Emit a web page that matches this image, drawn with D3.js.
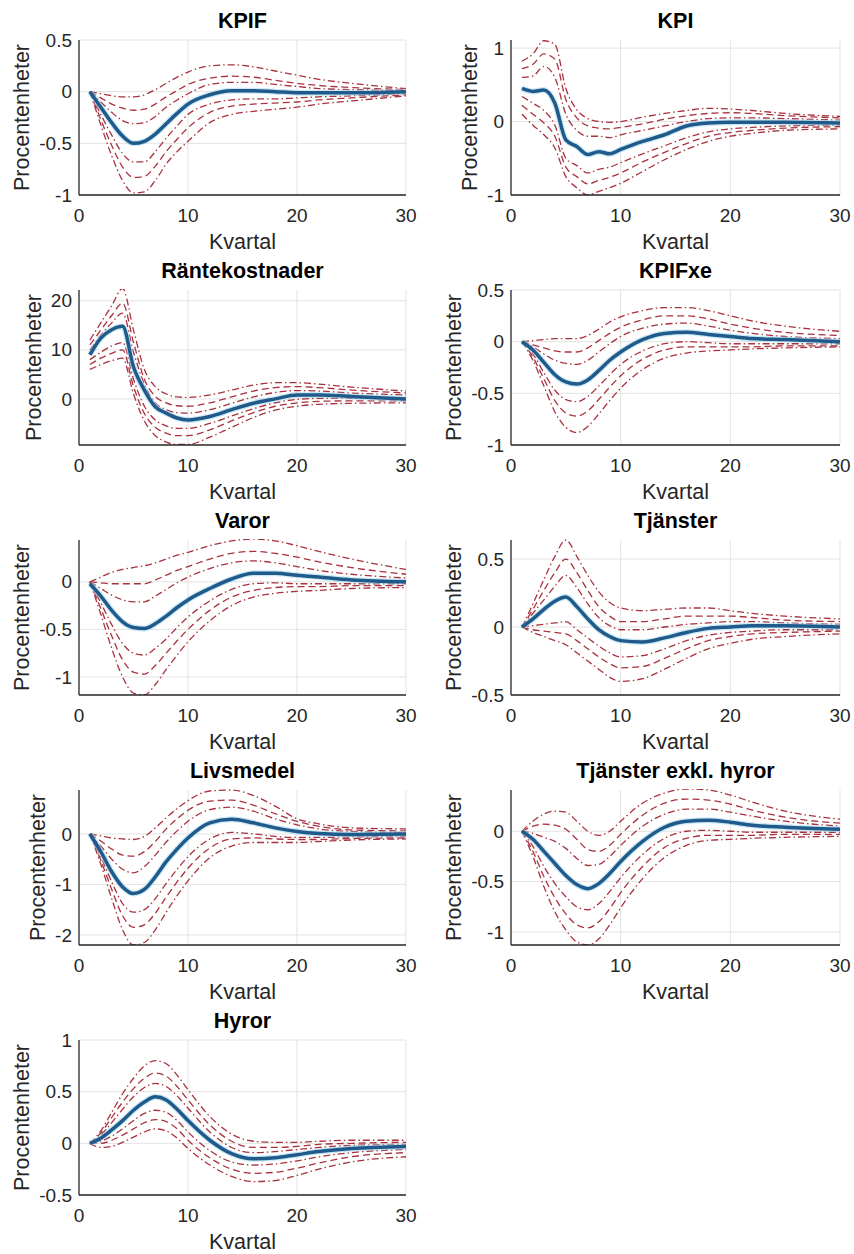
<!DOCTYPE html>
<html lang="sv">
<head>
<meta charset="UTF-8">
<title>Impulssvar</title>
<script src="https://cdnjs.cloudflare.com/ajax/libs/d3/7.8.5/d3.min.js"></script>
<style>
    body { margin: 0; background: #fff; }
    svg text { font-family: "Liberation Sans", Arial, Helvetica, sans-serif; fill: #262626; }
</style>
</head>
<body>
<div id="chart"></div>
<script>
    // kvartal där värdena är avlästa
    const quarters = [1, 2, 3, 4, 5, 6, 7, 8, 9, 10, 12, 14, 16, 18, 20, 22, 25, 30];

    const titles = ['KPIF', 'KPI', 'Räntekostnader', 'KPIFxe', 'Varor', 'Tjänster',
        'Livsmedel', 'Tjänster exkl. hyror', 'Hyror'];

    const yLimits = [[-1, 0.5], [-1, 1.11], [-9.4, 22.2], [-1, 0.5], [-1.19, 0.44],
        [-0.5, 0.64], [-2.2, 0.87], [-1.13, 0.41], [-0.5, 1]];

    const yTicks = [[-1, -0.5, 0, 0.5], [-1, 0, 1], [0, 10, 20], [-1, -0.5, 0, 0.5], [-1, -0.5, 0],
        [-0.5, 0, 0.5], [-2, -1, 0], [-1, -0.5, 0], [-0.5, 0, 0.5, 1]];

    const xTicks = [0, 10, 20, 30];

    // median (blå) och band (röda): övre yttre, övre mitt, övre inre, undre inre, undre mitt, undre yttre
    const kpifMedian = [0, -0.15, -0.3, -0.43, -0.5, -0.48, -0.41, -0.31, -0.21, -0.12, -0.03, 0.01, 0.01, 0, -0.01, -0.01, -0.01, 0];
    const kpifBands = [
        [0, -0.02, -0.04, -0.05, -0.05, -0.03, 0.02, 0.08, 0.14, 0.19, 0.25, 0.26, 0.24, 0.2, 0.16, 0.12, 0.08, 0.03],
        [0, -0.06, -0.12, -0.16, -0.18, -0.17, -0.12, -0.05, 0.01, 0.07, 0.13, 0.15, 0.14, 0.11, 0.08, 0.06, 0.04, 0.02],
        [0, -0.1, -0.2, -0.28, -0.31, -0.3, -0.24, -0.15, -0.08, -0.02, 0.07, 0.09, 0.09, 0.07, 0.05, 0.03, 0.02, 0.01],
        [0, -0.22, -0.42, -0.6, -0.68, -0.68, -0.58, -0.45, -0.33, -0.22, -0.12, -0.08, -0.07, -0.07, -0.06, -0.05, -0.04, -0.02],
        [0, -0.27, -0.52, -0.73, -0.83, -0.82, -0.72, -0.58, -0.46, -0.35, -0.2, -0.14, -0.12, -0.11, -0.1, -0.08, -0.06, -0.03],
        [0, -0.32, -0.62, -0.86, -0.98, -0.97, -0.86, -0.7, -0.58, -0.48, -0.3, -0.22, -0.19, -0.17, -0.15, -0.12, -0.09, -0.04]
    ];

    const kpiMedian = [0.45, 0.41, 0.43, 0.25, -0.25, -0.34, -0.45, -0.41, -0.44, -0.38, -0.27, -0.18, -0.06, -0.02, -0.01, -0.01, -0.01, -0.02];
    const kpiBands = [
        [0.82, 0.92, 1.1, 1.05, 0.45, 0.16, 0.04, 0, -0.01, 0, 0.06, 0.11, 0.15, 0.18, 0.17, 0.15, 0.11, 0.07],
        [0.72, 0.78, 0.92, 0.85, 0.3, 0.05, -0.06, -0.09, -0.1, -0.08, -0.03, 0.03, 0.08, 0.11, 0.12, 0.11, 0.08, 0.05],
        [0.6, 0.62, 0.75, 0.6, 0.1, -0.12, -0.2, -0.2, -0.22, -0.18, -0.12, -0.06, 0, 0.04, 0.05, 0.05, 0.04, 0.02],
        [0.34, 0.25, 0.15, -0.05, -0.5, -0.6, -0.7, -0.65, -0.62, -0.56, -0.44, -0.33, -0.22, -0.14, -0.1, -0.08, -0.06, -0.05],
        [0.22, 0.1, -0.02, -0.2, -0.62, -0.75, -0.85, -0.8, -0.76, -0.7, -0.55, -0.42, -0.3, -0.2, -0.15, -0.12, -0.09, -0.07],
        [0.1, -0.05, -0.18, -0.36, -0.75, -0.9, -1.0, -0.95, -0.9, -0.84, -0.68, -0.52, -0.38, -0.27, -0.2, -0.16, -0.12, -0.1]
    ];

    const ranteMedian = [9, 12.4, 14.1, 14.8, 6.5, 1.8, -1.6, -2.9, -3.9, -4.3, -3.6, -2.2, -0.9, 0, 0.8, 0.8, 0.5, 0];
    const ranteBands = [
        [12, 15.5, 19, 22.5, 14, 6, 2.5, 1, 0.4, 0.3, 0.8, 1.8, 2.8, 3.3, 3.3, 3, 2.4, 1.6],
        [11, 14, 17, 19.5, 11.5, 4, 0.5, -0.8, -1.4, -1.5, -0.8, 0.4, 1.6, 2.3, 2.5, 2.3, 1.8, 1.2],
        [10, 13, 15.5, 17.5, 9.5, 3, -0.8, -2.2, -2.8, -2.9, -2.2, -0.9, 0.4, 1.3, 1.7, 1.6, 1.2, 0.8],
        [8, 9.5, 10.8, 11.5, 4, -1.5, -4.3, -5.5, -6, -6, -5, -3.5, -2, -0.8, -0.1, 0.1, 0.1, 0],
        [7, 8.3, 9.3, 10, 2.5, -3, -5.8, -7, -7.5, -7.5, -6.3, -4.5, -2.8, -1.5, -0.8, -0.5, -0.4, -0.4],
        [6, 7, 7.8, 8.3, 1, -4.5, -7.5, -8.8, -9.3, -9.3, -7.8, -5.8, -3.8, -2.3, -1.5, -1.1, -0.9, -0.8]
    ];

    const kpifxeMedian = [0, -0.08, -0.2, -0.32, -0.39, -0.41, -0.37, -0.28, -0.18, -0.1, 0.02, 0.08, 0.09, 0.07, 0.05, 0.03, 0.02, 0];
    const kpifxeBands = [
        [0, 0.01, 0.02, 0.03, 0.03, 0.03, 0.06, 0.12, 0.19, 0.24, 0.3, 0.33, 0.33, 0.3, 0.25, 0.2, 0.15, 0.1],
        [0, -0.03, -0.06, -0.09, -0.1, -0.1, -0.06, 0.01, 0.08, 0.14, 0.21, 0.25, 0.25, 0.22, 0.17, 0.13, 0.09, 0.06],
        [0, -0.05, -0.12, -0.18, -0.21, -0.22, -0.18, -0.1, -0.02, 0.05, 0.13, 0.17, 0.18, 0.15, 0.11, 0.08, 0.05, 0.03],
        [0, -0.12, -0.3, -0.47, -0.56, -0.58, -0.53, -0.43, -0.32, -0.22, -0.09, -0.02, 0, -0.01, -0.02, -0.02, -0.02, -0.02],
        [0, -0.15, -0.36, -0.57, -0.69, -0.72, -0.67, -0.56, -0.44, -0.33, -0.17, -0.08, -0.05, -0.05, -0.05, -0.05, -0.04, -0.04],
        [0, -0.18, -0.43, -0.68, -0.83, -0.88, -0.82, -0.7, -0.57, -0.45, -0.27, -0.16, -0.11, -0.09, -0.08, -0.07, -0.06, -0.05]
    ];

    const varorMedian = [-0.02, -0.15, -0.3, -0.42, -0.48, -0.49, -0.44, -0.36, -0.27, -0.19, -0.07, 0.03, 0.09, 0.09, 0.07, 0.05, 0.02, 0];
    const varorBands = [
        [0, 0.05, 0.1, 0.13, 0.15, 0.17, 0.2, 0.24, 0.28, 0.31, 0.38, 0.43, 0.45, 0.43, 0.38, 0.32, 0.24, 0.13],
        [0, -0.01, -0.02, -0.02, -0.02, -0.02, 0.02, 0.07, 0.12, 0.16, 0.24, 0.3, 0.32, 0.3, 0.26, 0.21, 0.15, 0.08],
        [0, -0.07, -0.14, -0.19, -0.21, -0.21, -0.15, -0.08, -0.01, 0.05, 0.14, 0.2, 0.22, 0.2, 0.16, 0.12, 0.08, 0.04],
        [0, -0.22, -0.45, -0.65, -0.75, -0.77, -0.7, -0.6, -0.48, -0.37, -0.2, -0.08, -0.02, -0.01, -0.02, -0.02, -0.02, -0.02],
        [0, -0.28, -0.57, -0.82, -0.95, -0.97, -0.88, -0.75, -0.62, -0.5, -0.3, -0.16, -0.09, -0.06, -0.05, -0.05, -0.04, -0.04],
        [0, -0.34, -0.7, -1.0, -1.17, -1.19, -1.08, -0.92, -0.77, -0.63, -0.41, -0.25, -0.16, -0.12, -0.1, -0.09, -0.07, -0.06]
    ];

    const tjansterMedian = [0, 0.06, 0.13, 0.19, 0.22, 0.15, 0.06, -0.02, -0.07, -0.1, -0.11, -0.08, -0.04, -0.01, 0, 0.01, 0.01, 0];
    const tjansterBands = [
        [0, 0.17, 0.35, 0.52, 0.64, 0.52, 0.38, 0.26, 0.18, 0.14, 0.12, 0.13, 0.14, 0.14, 0.12, 0.1, 0.08, 0.06],
        [0, 0.13, 0.27, 0.4, 0.5, 0.4, 0.27, 0.15, 0.08, 0.04, 0.04, 0.06, 0.08, 0.08, 0.08, 0.07, 0.05, 0.04],
        [0, 0.1, 0.2, 0.3, 0.38, 0.29, 0.17, 0.07, 0.01, -0.02, -0.02, 0, 0.02, 0.03, 0.04, 0.04, 0.03, 0.02],
        [0, 0.01, 0.02, 0.03, 0.04, -0.02, -0.08, -0.14, -0.19, -0.22, -0.21, -0.16, -0.1, -0.06, -0.04, -0.03, -0.02, -0.02],
        [0, -0.02, -0.03, -0.04, -0.05, -0.1, -0.16, -0.22, -0.27, -0.3, -0.29, -0.23, -0.16, -0.1, -0.07, -0.05, -0.04, -0.03],
        [0, -0.04, -0.07, -0.1, -0.13, -0.19, -0.25, -0.31, -0.37, -0.4, -0.38, -0.31, -0.23, -0.16, -0.12, -0.09, -0.07, -0.05]
    ];

    const livsmedelMedian = [0, -0.35, -0.75, -1.05, -1.18, -1.1, -0.85, -0.55, -0.3, -0.08, 0.22, 0.29, 0.22, 0.12, 0.05, 0.01, -0.01, 0];
    const livsmedelBands = [
        [0, -0.04, -0.08, -0.1, -0.11, -0.05, 0.12, 0.32, 0.5, 0.66, 0.85, 0.87, 0.76, 0.55, 0.3, 0.2, 0.12, 0.1],
        [0, -0.14, -0.3, -0.42, -0.44, -0.35, -0.15, 0.1, 0.3, 0.47, 0.65, 0.67, 0.57, 0.4, 0.25, 0.15, 0.08, 0.06],
        [0, -0.24, -0.5, -0.7, -0.77, -0.65, -0.42, -0.16, 0.06, 0.25, 0.48, 0.53, 0.45, 0.3, 0.18, 0.1, 0.05, 0.03],
        [0, -0.45, -0.95, -1.38, -1.55, -1.5, -1.28, -0.98, -0.7, -0.45, -0.1, 0.03, 0, -0.05, -0.07, -0.07, -0.06, -0.05],
        [0, -0.52, -1.1, -1.62, -1.85, -1.8, -1.57, -1.25, -0.95, -0.68, -0.28, -0.1, -0.08, -0.1, -0.11, -0.11, -0.09, -0.08],
        [0, -0.6, -1.28, -1.9, -2.2, -2.15, -1.9, -1.55, -1.22, -0.93, -0.47, -0.24, -0.17, -0.17, -0.17, -0.15, -0.12, -0.1]
    ];

    const exklHyrorMedian = [0, -0.08, -0.2, -0.32, -0.44, -0.53, -0.57, -0.52, -0.42, -0.3, -0.1, 0.04, 0.1, 0.11, 0.09, 0.06, 0.04, 0.02];
    const exklHyrorBands = [
        [0, 0.1, 0.17, 0.2, 0.19, 0.1, 0, -0.04, 0, 0.1, 0.28, 0.38, 0.42, 0.41, 0.36, 0.29, 0.2, 0.12],
        [0, 0.05, 0.07, 0.06, 0.02, -0.08, -0.18, -0.2, -0.14, -0.03, 0.16, 0.28, 0.32, 0.31, 0.27, 0.21, 0.14, 0.08],
        [0, -0.02, -0.06, -0.1, -0.17, -0.27, -0.34, -0.33, -0.25, -0.14, 0.05, 0.17, 0.22, 0.22, 0.19, 0.15, 0.1, 0.05],
        [0, -0.15, -0.35, -0.52, -0.65, -0.75, -0.78, -0.72, -0.6, -0.46, -0.23, -0.07, 0, 0.01, 0, -0.01, -0.01, -0.01],
        [0, -0.2, -0.45, -0.66, -0.82, -0.93, -0.96, -0.9, -0.77, -0.61, -0.35, -0.16, -0.07, -0.04, -0.04, -0.04, -0.03, -0.03],
        [0, -0.25, -0.55, -0.8, -0.98, -1.1, -1.13, -1.07, -0.93, -0.76, -0.47, -0.26, -0.14, -0.09, -0.08, -0.07, -0.06, -0.05]
    ];

    const hyrorMedian = [0, 0.05, 0.13, 0.22, 0.32, 0.4, 0.45, 0.42, 0.33, 0.22, 0.03, -0.1, -0.15, -0.14, -0.11, -0.08, -0.05, -0.03];
    const hyrorBands = [
        [0, 0.12, 0.3, 0.48, 0.63, 0.75, 0.8, 0.77, 0.66, 0.52, 0.26, 0.09, 0.02, 0.01, 0.01, 0.02, 0.03, 0.03],
        [0, 0.1, 0.25, 0.4, 0.53, 0.63, 0.68, 0.65, 0.55, 0.42, 0.18, 0.02, -0.04, -0.04, -0.03, -0.01, 0, 0.01],
        [0, 0.08, 0.2, 0.33, 0.45, 0.54, 0.58, 0.55, 0.46, 0.34, 0.11, -0.04, -0.09, -0.08, -0.06, -0.04, -0.02, -0.01],
        [0, 0.02, 0.07, 0.14, 0.22, 0.29, 0.32, 0.3, 0.22, 0.11, -0.07, -0.18, -0.21, -0.2, -0.17, -0.13, -0.09, -0.06],
        [0, 0, 0.03, 0.08, 0.14, 0.2, 0.23, 0.21, 0.14, 0.03, -0.14, -0.25, -0.29, -0.28, -0.24, -0.19, -0.13, -0.09],
        [0, -0.04, -0.03, 0.01, 0.06, 0.11, 0.14, 0.12, 0.05, -0.05, -0.21, -0.32, -0.37, -0.36, -0.31, -0.25, -0.18, -0.13]
    ];

    const medians = [kpifMedian, kpiMedian, ranteMedian, kpifxeMedian, varorMedian,
        tjansterMedian, livsmedelMedian, exklHyrorMedian, hyrorMedian];
    const bands = [kpifBands, kpiBands, ranteBands, kpifxeBands, varorBands,
        tjansterBands, livsmedelBands, exklHyrorBands, hyrorBands];

    // layout
    const width = 854, height = 1254;
    const colX = [[79, 406], [511, 840]];
    const rowTop = 40, rowStep = 250, plotH = 155;
    const bandDash = ['7,3,1.5,3', '7,4', '7,3,1.5,3', '7,3,1.5,3', '7,4', '7,3,1.5,3'];

    const svg = d3.select('#chart')
        .append('svg')
        .attr('width', width)
        .attr('height', height);

    titles.forEach(function (title, i) {
        const col = i % 2, row = Math.floor(i / 2);
        const x0 = colX[col][0], x1 = colX[col][1];
        const top = rowTop + row * rowStep, bottom = top + plotH;

        const x = d3.scaleLinear().domain([0, 30]).range([x0, x1]);
        const y = d3.scaleLinear().domain(yLimits[i]).range([bottom, top]);

        const g = svg.append('g');

        // grid
        g.selectAll('.gx').data(xTicks.filter(d => d > 0)).enter()
            .append('line')
            .attr('x1', d => x(d)).attr('x2', d => x(d))
            .attr('y1', top).attr('y2', bottom)
            .attr('stroke', '#e3e3e3').attr('stroke-width', 1);
        g.selectAll('.gy').data(yTicks[i]).enter()
            .append('line')
            .attr('x1', x0).attr('x2', x1)
            .attr('y1', d => y(d)).attr('y2', d => y(d))
            .attr('stroke', '#e3e3e3').attr('stroke-width', 1);

        // clip
        const clipId = 'clip' + i;
        svg.append('clipPath').attr('id', clipId)
            .append('rect')
            .attr('x', x0).attr('y', top - 1)
            .attr('width', x1 - x0 + 2).attr('height', plotH + 1);

        const line = d3.line()
            .x((d, k) => x(quarters[k]))
            .y(d => y(d))
            .curve(d3.curveMonotoneX);

        const lines = g.append('g').attr('clip-path', `url(#${clipId})`);

        lines.selectAll('.band').data(bands[i]).enter()
            .append('path')
            .attr('d', d => line(d))
            .attr('fill', 'none')
            .attr('stroke', '#a8323e')
            .attr('stroke-width', 1.3)
            .attr('stroke-dasharray', (d, k) => bandDash[k]);

        lines.append('path')
            .attr('d', line(medians[i]))
            .attr('fill', 'none')
            .attr('stroke', '#a9d8ef')
            .attr('stroke-width', 6)
            .attr('opacity', 0.6);
        lines.append('path')
            .attr('d', line(medians[i]))
            .attr('fill', 'none')
            .attr('stroke', '#1f5a8a')
            .attr('stroke-width', 3.5);

        // axes
        g.append('line')
            .attr('x1', x0).attr('x2', x0).attr('y1', top).attr('y2', bottom)
            .attr('stroke', '#262626').attr('stroke-width', 1.3);
        g.append('line')
            .attr('x1', x0).attr('x2', x1).attr('y1', bottom).attr('y2', bottom)
            .attr('stroke', '#262626').attr('stroke-width', 1.3);

        g.selectAll('.xt').data(xTicks).enter()
            .append('text')
            .attr('x', d => x(d)).attr('y', bottom + 27)
            .attr('text-anchor', 'middle')
            .attr('font-size', 19)
            .text(d => d);

        const yt = g.selectAll('.yt').data(yTicks[i]).enter()
            .append('text')
            .attr('x', x0 - 7).attr('y', d => y(d))
            .attr('dy', '0.35em')
            .attr('text-anchor', 'end')
            .attr('font-size', 19)
            .text(d => d);

        let maxW = 0;
        yt.each(function () { maxW = Math.max(maxW, this.getComputedTextLength()); });

        g.append('text')
            .attr('transform', 'rotate(-90)')
            .attr('x', -(top + bottom) / 2)
            .attr('y', x0 - 7 - maxW - 10)
            .attr('text-anchor', 'middle')
            .attr('font-size', 21.5)
            .text('Procentenheter');

        g.append('text')
            .attr('x', (x0 + x1) / 2).attr('y', bottom + 54)
            .attr('text-anchor', 'middle')
            .attr('font-size', 21.5)
            .text('Kvartal');

        g.append('text')
            .attr('x', (x0 + x1) / 2).attr('y', top - 12)
            .attr('text-anchor', 'middle')
            .attr('font-size', 21.5)
            .attr('font-weight', 'bold')
            .style('fill', '#000')
            .text(title);
    });
</script>
</body>
</html>
